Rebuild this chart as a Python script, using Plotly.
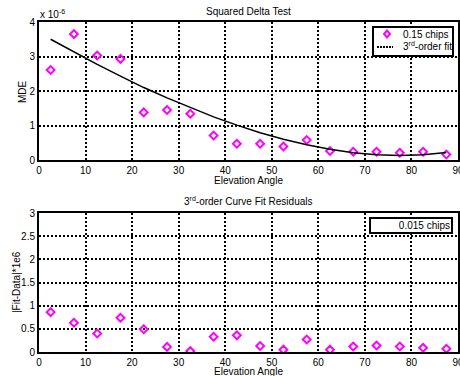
import plotly.graph_objects as go

elev = [2.5, 7.5, 12.5, 17.5, 22.5, 27.5, 32.5, 37.5, 42.5, 47.5,
        52.5, 57.5, 62.5, 67.5, 72.5, 77.5, 82.5, 87.5]
mde = [2.61, 3.65, 3.03, 2.93, 1.38, 1.45, 1.34, 0.71, 0.47, 0.47,
       0.39, 0.58, 0.26, 0.24, 0.24, 0.21, 0.24, 0.16]
fit = [3.50, 3.13, 2.77, 2.43, 2.10, 1.80, 1.52, 1.25, 1.01, 0.79,
       0.60, 0.44, 0.31, 0.21, 0.15, 0.13, 0.15, 0.22]
resid = [0.86, 0.63, 0.40, 0.74, 0.49, 0.11, 0.02, 0.33, 0.36, 0.13,
         0.05, 0.27, 0.05, 0.12, 0.14, 0.12, 0.09, 0.07]
x_ticks = [0, 10, 20, 30, 40, 50, 60, 70, 80, 90]
top_y_ticks = [0, 1, 2, 3, 4]
bot_y_ticks = [0, 0.5, 1, 1.5, 2, 2.5, 3]

FONT = "Liberation Sans, Arial, sans-serif"
W, H = 460, 376
L = 39
PW = 419

def py(px):
    return 1 - px / H

def px_(x):
    return (x - L) / PW

MAG = "#ff00ff"
mk = dict(symbol="diamond-open", size=6, color=MAG, line=dict(width=2, color=MAG))

fig = go.Figure()
fig.add_trace(go.Scatter(x=elev, y=mde, mode="markers", name="0.15 chips",
                         marker=mk, xaxis="x", yaxis="y", showlegend=False))
fig.add_trace(go.Scatter(x=elev, y=fit, mode="lines", name="3rd-order fit",
                         line=dict(color="black", width=1.5),
                         xaxis="x", yaxis="y", showlegend=False))
fig.add_trace(go.Scatter(x=elev, y=resid, mode="markers", name="0.015 chips",
                         marker=mk, xaxis="x2", yaxis="y2", showlegend=False))

axis_common = dict(showline=True, linecolor="black", linewidth=2, mirror=True,
                   showgrid=True, gridcolor="black", gridwidth=2, griddash="2px,2px",
                   zeroline=False, ticks="", ticklen=0, automargin=False,
                   ticklabeloverflow="allow",
                   tickfont=dict(family=FONT, size=10, color="black"))

# hand-drawn legend box (top panel)
lx0, lx1, ly0, ly1 = 373, 453, 27, 56
mx, my = 387, 34
shapes = [
    dict(type="rect", xref="paper", yref="paper", x0=px_(lx0), x1=px_(lx1),
         y0=py(ly1), y1=py(ly0), line=dict(color="black", width=2),
         fillcolor="white", layer="above"),
    dict(type="line", xref="paper", yref="paper", x0=px_(377), x1=px_(393),
         y0=py(47), y1=py(47), line=dict(color="black", width=2, dash="2px,1px"),
         layer="above"),
    dict(type="path", xref="paper", yref="paper", layer="above",
         path=f"M {px_(mx)},{py(my - 3.5)} L {px_(mx + 3)},{py(my)} "
              f"L {px_(mx)},{py(my + 3.5)} L {px_(mx - 3)},{py(my)} Z",
         line=dict(color=MAG, width=2)),
]

def txt(text, x, y, **kw):
    d = dict(text=text, x=px_(x), y=py(y), xref="paper", yref="paper",
             xanchor="center", yanchor="middle",
             showarrow=False, font=dict(family=FONT, size=10, color="black"))
    d.update(kw)
    return d

fig.update_layout(
    width=W, height=H,
    margin=dict(l=L, r=W - L - PW, t=0, b=0),
    paper_bgcolor="white", plot_bgcolor="white",
    font=dict(family=FONT, size=10, color="black"),
    showlegend=False,
    hovermode=False,
    xaxis=dict(domain=[0, 1], range=[0, 90], tickvals=x_ticks, anchor="y",
               **axis_common),
    yaxis=dict(domain=[py(160), py(22)], range=[0, 4], tickvals=top_y_ticks, anchor="x",
               **axis_common),
    xaxis2=dict(domain=[0, 1], range=[0, 90], tickvals=x_ticks, anchor="y2",
                **axis_common),
    yaxis2=dict(domain=[py(352), py(213)], range=[0, 3], tickvals=bot_y_ticks, anchor="x2",
                **axis_common),
    shapes=shapes,
    annotations=[
        txt("Squared Delta Test", 248, 12),
        txt("3<sup>rd</sup>-order Curve Fit Residuals", 248, 201),
        txt("x 10<sup>-6</sup>", 38, 14, xanchor="left"),
        txt("Elevation Angle", 248, 180),
        txt("Elevation Angle", 248, 371),
        txt("MDE", 23, 92, textangle=-90),
        txt("|Fit-Data|*1e6", 16, 282, textangle=-90),
        txt("0.15 chips", 401, 34, xanchor="left"),
        txt("3<sup>rd</sup>-order fit", 401, 46, xanchor="left"),
        txt("0.015 chips", 453, 217, xanchor="right", yanchor="top", align="right",
            bgcolor="white", bordercolor="black", borderwidth=2, borderpad=1, width=78),
    ],
)

fig.write_html("out.html", config={"displayModeBar": False},
               post_script="document.body.style.margin='0';")
